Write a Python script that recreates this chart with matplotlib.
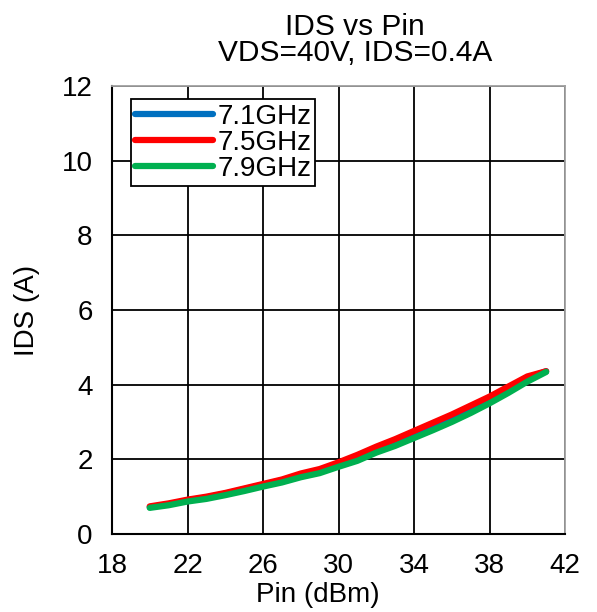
import matplotlib
matplotlib.use("Agg")
import matplotlib.pyplot as plt

plt.rcParams["font.family"] = ["Liberation Sans", "DejaVu Sans"]

# data
pin = [20, 21, 22, 23, 24, 25, 26, 27, 28, 29, 30,
       31, 32, 33, 34, 35, 36, 37, 38, 39, 40, 41]
ids_71 = [0.72, 0.80, 0.90, 0.98, 1.08, 1.20, 1.32, 1.44, 1.58, 1.70, 1.88,
          2.06, 2.28, 2.48, 2.70, 2.92, 3.14, 3.38, 3.62, 3.90, 4.18, 4.36]
ids_75 = [0.74, 0.82, 0.92, 1.00, 1.10, 1.22, 1.34, 1.46, 1.62, 1.74, 1.92,
          2.12, 2.34, 2.54, 2.76, 2.98, 3.20, 3.44, 3.68, 3.95, 4.22, 4.36]
ids_79 = [0.70, 0.77, 0.87, 0.94, 1.04, 1.15, 1.27, 1.38, 1.52, 1.63, 1.80,
          1.96, 2.18, 2.36, 2.57, 2.78, 3.00, 3.24, 3.50, 3.78, 4.08, 4.34]
labels = ["7.1GHz", "7.5GHz", "7.9GHz"]
colors = ["#0070C0", "#FF0000", "#00B050"]

FS = 20

fig = plt.figure(figsize=(5.97, 6.12), dpi=100)
ax = fig.add_axes([112 / 597, 1 - 534 / 612, 453 / 597, 448 / 612])

for y, lab, c in zip([ids_71, ids_75, ids_79], labels, colors):
    ax.plot(pin, y, color=c, lw=4.5, label=lab, solid_capstyle="round")

ax.set_xlim(18, 42)
ax.set_ylim(0, 12)
ax.set_xticks(range(18, 43, 4))
ax.set_yticks(range(0, 13, 2))
ax.grid(True, color="black", lw=1.3)
ax.set_axisbelow(True)
ax.tick_params(length=0, labelsize=FS)
ax.tick_params(axis="x", pad=14)
ax.tick_params(axis="y", pad=14)
for s in ["left", "bottom"]:
    ax.spines[s].set_color("black")
    ax.spines[s].set_linewidth(1.5)
for s in ["top", "right"]:
    ax.spines[s].set_color("#A0A0A0")
    ax.spines[s].set_linewidth(1.3)

fig.text(27 / 597, 1 - 310 / 612, "IDS (A)", rotation=90, fontsize=FS,
         ha="center", va="center")
fig.text(318 / 597, 1 - 595 / 612, "Pin (dBm)", fontsize=FS,
         ha="center", va="center")
fig.text(355 / 597, 1 - 40 / 612, "IDS vs Pin\nVDS=40V, IDS=0.4A",
         fontsize=21.5, ha="center", va="center", linespacing=0.95)

leg = ax.legend(loc="upper left", bbox_to_anchor=(0.042, 0.97), fontsize=FS,
                frameon=True, fancybox=False, handlelength=2.8,
                handletextpad=0.15, borderpad=0.15, labelspacing=0.0,
                borderaxespad=0)
leg.get_frame().set_edgecolor("black")
leg.get_frame().set_linewidth(1.3)
leg.get_frame().set_alpha(1)

fig.savefig("out.png", dpi=100)
